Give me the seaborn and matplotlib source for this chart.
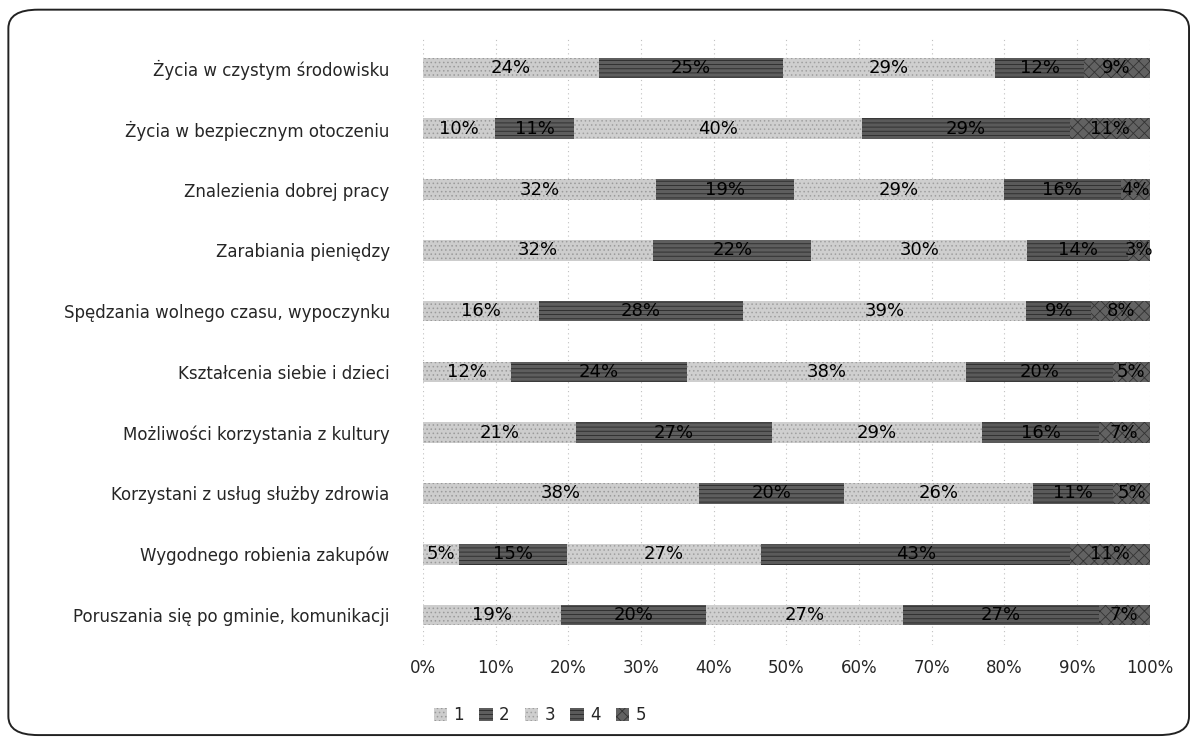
import matplotlib.pyplot as plt
import numpy as np
import pandas as pd
import seaborn as sns
from matplotlib.patches import FancyBboxPatch, Patch

sns.set_theme(style="white")
plt.rcParams["font.family"] = ["DejaVu Sans"]
plt.rcParams["hatch.linewidth"] = 0.6

# Dane, kolejnosc od gory
kategorie = [
    "Życia w czystym środowisku",
    "Życia w bezpiecznym otoczeniu",
    "Znalezienia dobrej pracy",
    "Zarabiania pieniędzy",
    "Spędzania wolnego czasu, wypoczynku",
    "Kształcenia siebie i dzieci",
    "Możliwości korzystania z kultury",
    "Korzystani z usług służby zdrowia",
    "Wygodnego robienia zakupów",
    "Poruszania się po gminie, komunikacji",
]
ocena_1 = [24, 10, 32, 32, 16, 12, 21, 38, 5, 19]
ocena_2 = [25, 11, 19, 22, 28, 24, 27, 20, 15, 20]
ocena_3 = [29, 40, 29, 30, 39, 38, 29, 26, 27, 27]
ocena_4 = [12, 29, 16, 14, 9, 20, 16, 11, 43, 27]
ocena_5 = [9, 11, 4, 3, 8, 5, 7, 5, 11, 7]
serie = ["1", "2", "3", "4", "5"]

df = pd.DataFrame(
    {"1": ocena_1, "2": ocena_2, "3": ocena_3, "4": ocena_4, "5": ocena_5},
    index=kategorie,
)
# wykres 100% skumulowany
udzialy = df.div(df.sum(axis=1), axis=0) * 100
skumulowane = udzialy.cumsum(axis=1)

kolory = {"1": "#cdcdcd", "2": "#5e5e5e", "3": "#cfcfcf", "4": "#5a5a5a", "5": "#626262"}
krawedzie = {"1": "#9a9a9a", "2": "#2a2a2a", "3": "#a0a0a0", "4": "#2a2a2a", "5": "#333333"}
wzory = {"1": "....", "2": "----", "3": "....", "4": "----", "5": "xxx"}

fig = plt.figure(figsize=(11.95, 7.44), dpi=100)
ax = fig.add_axes([0.354, 0.1325, 0.608, 0.817])

# rysujemy od najdluzszej warstwy, kolejne przykrywaja poprzednie
for s in reversed(serie):
    n_przed = len(ax.patches)
    sns.barplot(
        x=skumulowane[s].values,
        y=kategorie,
        order=kategorie,
        orient="h",
        color=kolory[s],
        width=0.34,
        ax=ax,
        zorder=2,
    )
    for p in ax.patches[n_przed:]:
        p.set_hatch(wzory[s])
        p.set_edgecolor(krawedzie[s])
        p.set_linewidth(0)
        p.set_facecolor(kolory[s])

# etykiety danych
for i, kat in enumerate(kategorie):
    for s in serie:
        srodek = skumulowane.loc[kat, s] - udzialy.loc[kat, s] / 2
        ax.text(
            srodek, i, f"{df.loc[kat, s]}%",
            ha="center", va="center", fontsize=13, color="black", zorder=5,
        )

ax.set_xlim(0, 100)
ax.set_ylim(len(kategorie) - 0.5, -0.5)
ax.set_xticks(np.arange(0, 101, 10))
ax.set_xticklabels([f"{v}%" for v in range(0, 101, 10)], fontsize=12)
ax.tick_params(axis="x", length=0, pad=10)
ax.tick_params(axis="y", length=0, pad=24, labelsize=12)
ax.set_xlabel("")
ax.set_ylabel("")
ax.xaxis.grid(True, linestyle=(0, (1, 3)), color="#c0c0c0", linewidth=0.8, zorder=0)
ax.set_axisbelow(True)
for sp in ax.spines.values():
    sp.set_visible(False)

uchwyty = [
    Patch(facecolor=kolory[s], edgecolor=krawedzie[s], hatch=wzory[s], linewidth=0)
    for s in serie
]
fig.legend(
    uchwyty, serie,
    loc="center", bbox_to_anchor=(540 / 1195, 1 - 715 / 744),
    ncol=5, frameon=False, fontsize=12,
    handlelength=0.8, handleheight=0.8, handletextpad=0.4, columnspacing=0.9,
)

ramka = FancyBboxPatch(
    (0.007, 0.012), 0.988, 0.975,
    boxstyle="round,pad=0,rounding_size=0.025",
    transform=fig.transFigure, fill=False, edgecolor="#222222", linewidth=1.4,
)
fig.patches.append(ramka)

fig.savefig("out.png", dpi=100)
